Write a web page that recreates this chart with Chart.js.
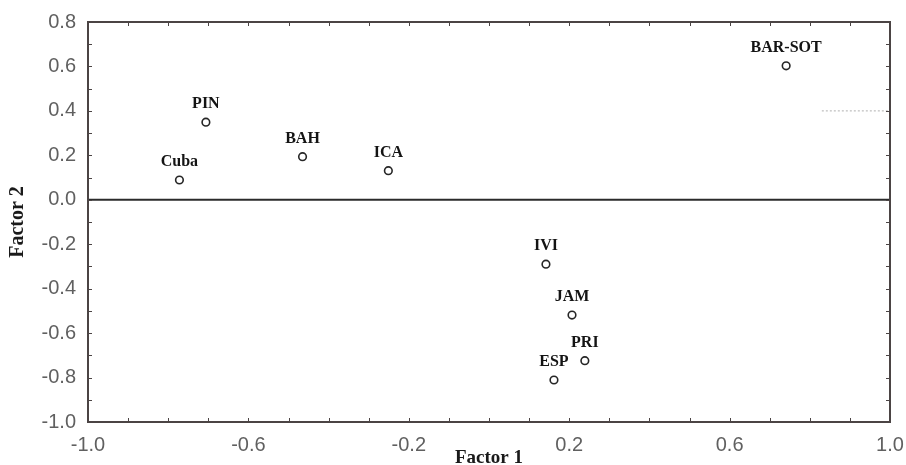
<!DOCTYPE html>
<html>
<head>
<meta charset="utf-8">
<script src="https://cdn.jsdelivr.net/npm/chart.js@4"></script>
<style>
  html, body { margin: 0; padding: 0; background: #fff; }
  #wrap { width: 906px; height: 465px; }
</style>
</head>
<body>
<div id="wrap"><canvas id="factorChart" width="906" height="465"></canvas></div>
<script>
const countries = ['Cuba', 'PIN', 'BAH', 'ICA', 'BAR-SOT', 'IVI', 'JAM', 'PRI', 'ESP'];
const factor1 = [-0.772, -0.706, -0.465, -0.251, 0.741, 0.142, 0.207, 0.239, 0.162];
const factor2 = [0.089, 0.349, 0.194, 0.131, 0.603, -0.290, -0.519, -0.724, -0.811];

const xTickValues = [-1.0, -0.6, -0.2, 0.2, 0.6, 1.0];
const yTickValues = [-1.0, -0.8, -0.6, -0.4, -0.2, 0.0, 0.2, 0.4, 0.6, 0.8];
const xMinorTicks = [-1.0, -0.9, -0.8, -0.7, -0.6, -0.5, -0.4, -0.3, -0.2, -0.1, 0.0, 0.1, 0.2, 0.3, 0.4, 0.5, 0.6, 0.7, 0.8, 0.9, 1.0];
const yMinorTicks = [-1.0, -0.9, -0.8, -0.7, -0.6, -0.5, -0.4, -0.3, -0.2, -0.1, 0.0, 0.1, 0.2, 0.3, 0.4, 0.5, 0.6, 0.7, 0.8];

// faint dotted segment in the original, right side at 0.4
const dottedX = [0.83, 1.0];
const dottedY = [0.4, 0.4];

const points = countries.map((c, i) => ({x: factor1[i], y: factor2[i]}));

// frame, zero line, inward ticks and point labels
const framePlugin = {
  id: 'frame',
  beforeDatasetsDraw(chart) {
    const {ctx, chartArea: a, scales: {y}} = chart;
    const y0 = y.getPixelForValue(0);
    ctx.save();
    ctx.strokeStyle = '#2b2b2b';
    ctx.lineWidth = 2;
    ctx.beginPath();
    ctx.moveTo(a.left, y0);
    ctx.lineTo(a.right, y0);
    ctx.stroke();
    ctx.restore();
  },
  afterDatasetsDraw(chart) {
    const {ctx, chartArea: a, scales: {x, y}} = chart;
    ctx.save();
    ctx.strokeStyle = '#4b4444';
    ctx.lineWidth = 1;
    const tl = 4;
    ctx.beginPath();
    xMinorTicks.forEach(v => {
      const px = Math.round(x.getPixelForValue(v)) + 0.5;
      ctx.moveTo(px, a.bottom); ctx.lineTo(px, a.bottom - tl);
      ctx.moveTo(px, a.top); ctx.lineTo(px, a.top + tl);
    });
    yMinorTicks.forEach(v => {
      const py = Math.round(y.getPixelForValue(v)) + 0.5;
      ctx.moveTo(a.left, py); ctx.lineTo(a.left + tl, py);
      ctx.moveTo(a.right, py); ctx.lineTo(a.right - tl, py);
    });
    ctx.stroke();

    ctx.lineWidth = 2;
    ctx.strokeRect(a.left, a.top, a.right - a.left, a.bottom - a.top);

    ctx.fillStyle = '#141414';
    ctx.font = 'bold 16px "Liberation Serif", "Times New Roman", serif';
    ctx.textAlign = 'center';
    ctx.textBaseline = 'middle';
    countries.forEach((c, i) => {
      const px = x.getPixelForValue(factor1[i]);
      const py = y.getPixelForValue(factor2[i]);
      ctx.fillText(c, px, py - 18);
    });
    ctx.restore();
  }
};

const ctx = document.getElementById('factorChart').getContext('2d');
const chart = new Chart(ctx, {
  type: 'scatter',
  data: {
    datasets: [
      {
        label: 'Factores',
        data: points,
        pointStyle: 'circle',
        pointRadius: 3.8,
        pointBorderWidth: 1.6,
        pointBorderColor: '#262626',
        pointBackgroundColor: '#ffffff'
      },
      {
        label: 'dotted',
        type: 'line',
        data: dottedX.map((v, i) => ({x: v, y: dottedY[i]})),
        borderColor: '#b0b0b0',
        borderWidth: 1,
        borderDash: [2, 2],
        pointRadius: 0,
        fill: false
      }
    ]
  },
  options: {
    responsive: false,
    animation: false,
    devicePixelRatio: 1,
    layout: {padding: {top: 22, right: 16, left: 0, bottom: 0}},
    plugins: {legend: {display: false}, tooltip: {enabled: false}},
    scales: {
      x: {
        type: 'linear',
        min: -1, max: 1,
        afterBuildTicks: s => { s.ticks = xTickValues.map(v => ({value: v})); },
        afterFit: s => { s.height = 43; s.paddingLeft = 0; s.paddingRight = 0; },
        grid: {display: false, drawTicks: false},
        border: {display: false},
        ticks: {
          padding: 11,
          color: '#606060',
          font: {family: '"Liberation Sans", Arial, sans-serif', size: 20},
          callback: v => v.toFixed(1)
        },
        title: {
          display: true,
          text: 'Factor 1',
          color: '#1a1a1a',
          padding: {top: 0, bottom: -3},
          font: {family: '"Liberation Serif", "Times New Roman", serif', size: 19, weight: 'bold', lineHeight: 1}
        }
      },
      y: {
        type: 'linear',
        min: -1, max: 0.8,
        afterBuildTicks: s => { s.ticks = yTickValues.map(v => ({value: v})); },
        afterFit: s => { s.width = 88; s.paddingTop = 0; s.paddingBottom = 0; },
        grid: {display: false, drawTicks: false},
        border: {display: false},
        ticks: {
          padding: 12,
          color: '#606060',
          font: {family: '"Liberation Sans", Arial, sans-serif', size: 20},
          callback: v => v.toFixed(1)
        },
        title: {
          display: true,
          text: 'Factor 2',
          color: '#1a1a1a',
          padding: {top: 8, bottom: 0},
          font: {family: '"Liberation Serif", "Times New Roman", serif', size: 20, weight: 'bold', lineHeight: 1}
        }
      }
    }
  },
  plugins: [framePlugin]
});
</script>
</body>
</html>
